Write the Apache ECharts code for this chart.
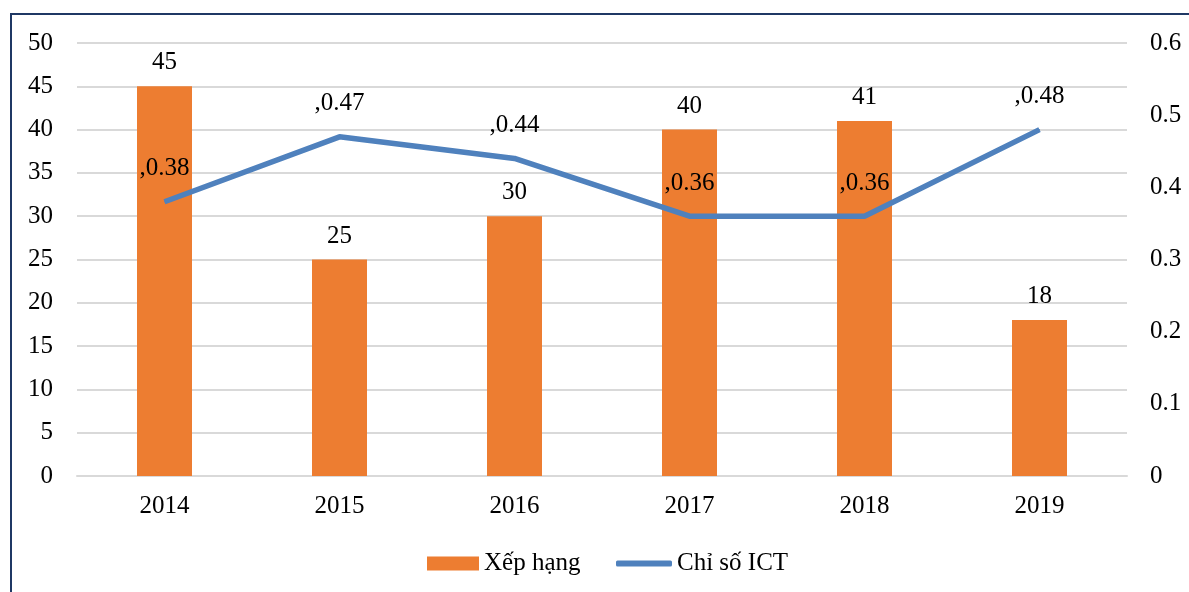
<!DOCTYPE html>
<html>
<head>
<meta charset="utf-8">
<script src="https://cdn.jsdelivr.net/npm/echarts@6/dist/echarts.min.js"></script>
<style>
  html, body { margin: 0; padding: 0; background: #fff; }
  #frame { position: absolute; left: 10px; top: 13px; width: 1200px; height: 600px; border: 2px solid #1f3864; box-sizing: border-box; }
  #chart { position: absolute; left: 0; top: 0; width: 1189px; height: 592px; }
</style>
</head>
<body>
<div id="frame"></div>
<div id="chart"></div>
<script>
const years = ['2014', '2015', '2016', '2017', '2018', '2019'];
const rankValues = [45, 25, 30, 40, 41, 18];
const ictValues = [0.38, 0.47, 0.44, 0.36, 0.36, 0.48];

const font = '"Liberation Serif", "Times New Roman", serif';
const fs = 25;

let chart = echarts.init(document.getElementById('chart'));
chart.setOption({
  animation: false,
  textStyle: { fontFamily: font },
  grid: { left: 77, right: 62, top: 43, bottom: 116, containLabel: false },
  // two legends so the bar swatch and the line swatch can have different heights
  legend: [
    {
      left: 422, top: 546,
      itemWidth: 52, itemHeight: 14, itemGap: 8,
      textStyle: { fontFamily: font, fontSize: fs, color: '#000' },
      data: [{ name: 'Xếp hạng', icon: 'rect' }]
    },
    {
      left: 611, top: 546,
      itemWidth: 56, itemHeight: 6, itemGap: 4,
      textStyle: { fontFamily: font, fontSize: fs, color: '#000' },
      data: [{ name: 'Chỉ số ICT', icon: 'roundRect' }]
    }
  ],
  xAxis: {
    type: 'category',
    data: years,
    axisLine: { lineStyle: { color: '#d9d9d9', width: 2 } },
    axisTick: { show: false },
    axisLabel: { color: '#000', fontSize: fs, fontFamily: font, margin: 18 }
  },
  yAxis: [
    {
      type: 'value', min: 0, max: 50, interval: 5,
      axisLine: { show: false }, axisTick: { show: false },
      axisLabel: { color: '#000', fontSize: fs, fontFamily: font, margin: 24 },
      splitLine: { lineStyle: { color: '#d9d9d9', width: 2 } }
    },
    {
      type: 'value', min: 0, max: 0.6, interval: 0.1,
      axisLine: { show: false }, axisTick: { show: false },
      axisLabel: { color: '#000', fontSize: fs, fontFamily: font, margin: 23, align: 'left' },
      splitLine: { show: false }
    }
  ],
  series: [
    {
      name: 'Xếp hạng',
      type: 'bar',
      data: rankValues,
      barWidth: 55,
      itemStyle: { color: '#ed7d31' },
      label: { show: true, position: 'top', distance: 11, color: '#000', fontSize: fs, fontFamily: font }
    },
    {
      name: 'Chỉ số ICT',
      type: 'line',
      yAxisIndex: 1,
      data: ictValues,
      symbol: 'circle',
      symbolSize: 1,
      lineStyle: { color: '#4f81bd', width: 5.5 },
      itemStyle: { color: '#4f81bd' },
      label: {
        show: true, position: 'top', distance: 20, color: '#000', fontSize: fs, fontFamily: font,
        formatter: p => ',' + p.value
      }
    }
  ]
});
</script>
</body>
</html>
